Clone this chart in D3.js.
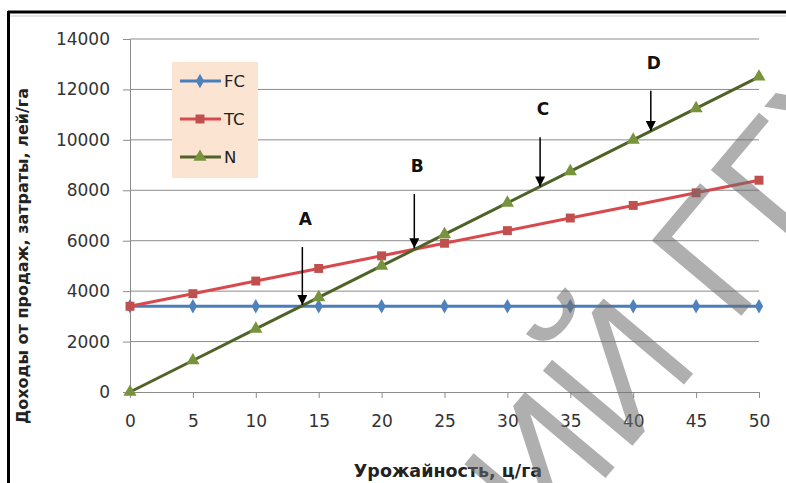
<!DOCTYPE html>
<html>
<head>
<meta charset="utf-8">
<script src="https://cdn.jsdelivr.net/npm/d3@7"></script>
<style>
  body { margin: 0; background: #fff; }
  svg { display: block; font-family: "DejaVu Sans", sans-serif; }
</style>
</head>
<body>
<script>
// Data

let yields = [0, 5, 10, 15, 20, 25, 30, 35, 40, 45, 50]
let fcValues = [3400, 3400, 3400, 3400, 3400, 3400, 3400, 3400, 3400, 3400, 3400]
let tcValues = [3400, 3900, 4400, 4900, 5400, 5900, 6400, 6900, 7400, 7900, 8400]
let nValues = [0, 1250, 2500, 3750, 5000, 6250, 7500, 8750, 10000, 11250, 12500]
let yTicks = [0, 2000, 4000, 6000, 8000, 10000, 12000, 14000]

// Arrow annotations: label, x (yield), top and tip values
let arrowLabels = ['A', 'B', 'C', 'D']
let arrowX = [13.7, 22.6, 32.6, 41.4]
let arrowTop = [5750, 7850, 10100, 11950]
let arrowTip = [3450, 5700, 8150, 10350]

let width = 786
let height = 483

let svg = d3.select('body')
    .append('svg')
    .attr('width', width)
    .attr('height', height)

let xScale = d3.scaleLinear().domain([0, 50]).range([130, 759])
let yScale = d3.scaleLinear().domain([0, 14000]).range([392, 39])

// frame
svg.append('line').attr('x1', 8).attr('x2', width).attr('y1', 12).attr('y2', 12)
    .attr('stroke', '#000').attr('stroke-width', 3)
svg.append('line').attr('x1', 8).attr('x2', width).attr('y1', 16).attr('y2', 16)
    .attr('stroke', '#ccc').attr('stroke-width', 1)
svg.append('line').attr('x1', 8.5).attr('x2', 8.5).attr('y1', 11).attr('y2', height)
    .attr('stroke', '#000').attr('stroke-width', 3)

// gridlines
svg.append('g')
    .selectAll('line')
    .data(yTicks.filter(d => d > 0))
    .join('line')
    .attr('x1', 130).attr('x2', 759)
    .attr('y1', d => yScale(d)).attr('y2', d => yScale(d))
    .attr('stroke', '#8c8c8c').attr('stroke-width', 1)

// axes
let yAxis = d3.axisLeft(yScale).tickValues(yTicks).tickFormat(d3.format('d'))
    .tickSize(7).tickPadding(13)
let yAxisG = svg.append('g').attr('transform', 'translate(130,0)').call(yAxis)
yAxisG.select('.domain').attr('stroke', '#8c8c8c')
yAxisG.selectAll('.tick line').attr('stroke', '#8c8c8c')
yAxisG.selectAll('.tick text').attr('font-size', 17).attr('fill', '#333')
    .attr('font-family', '"DejaVu Sans", sans-serif')

let xAxis = d3.axisBottom(xScale).tickValues(yields).tickSize(6).tickPadding(17)
let xAxisG = svg.append('g').attr('transform', 'translate(0,392)').call(xAxis)
xAxisG.select('.domain').attr('stroke', '#8c8c8c')
xAxisG.selectAll('.tick line').attr('stroke', '#8c8c8c')
xAxisG.selectAll('.tick text').attr('font-size', 17).attr('fill', '#333')
    .attr('font-family', '"DejaVu Sans", sans-serif')

// axis titles
svg.append('text')
    .attr('x', 448).attr('y', 477)
    .attr('text-anchor', 'middle')
    .attr('font-size', 17.5).attr('font-weight', 'bold').attr('fill', '#222')
    .text('Урожайность, ц/га')

svg.append('text')
    .attr('transform', 'translate(28,256) rotate(-90)')
    .attr('text-anchor', 'middle')
    .attr('font-size', 16).attr('font-weight', 'bold').attr('fill', '#222')
    .text('Доходы от продаж, затраты, лей/га')

// series
let series = [
    { name: 'FC', values: fcValues, line: '#4a7ebb', marker: '#4f81bd', shape: d3.symbolDiamond, size: 60 },
    { name: 'TC', values: tcValues, line: '#d9484c', marker: '#c0504d', shape: d3.symbolSquare, size: 80 },
    { name: 'N', values: nValues, line: '#4f6228', marker: '#77933c', shape: d3.symbolTriangle, size: 75 }
]

let line = d3.line()
    .x((d, i) => xScale(yields[i]))
    .y(d => yScale(d))

series.forEach(s => {
    svg.append('path')
        .datum(s.values)
        .attr('d', line)
        .attr('fill', 'none')
        .attr('stroke', s.line)
        .attr('stroke-width', 3)

    svg.append('g')
        .selectAll('path')
        .data(s.values)
        .join('path')
        .attr('transform', (d, i) => `translate(${xScale(yields[i])},${yScale(d)})`)
        .attr('d', d3.symbol().type(s.shape).size(s.size))
        .attr('fill', s.marker)
})

// legend
let legend = svg.append('g')
legend.append('rect')
    .attr('x', 172).attr('y', 62).attr('width', 86).attr('height', 116)
    .attr('fill', '#fce4d2')
series.forEach((s, i) => {
    let ly = 81 + i * 38
    legend.append('line')
        .attr('x1', 180).attr('x2', 221).attr('y1', ly).attr('y2', ly)
        .attr('stroke', s.line).attr('stroke-width', 3)
    legend.append('path')
        .attr('transform', `translate(200,${ly})`)
        .attr('d', d3.symbol().type(s.shape).size(s.size))
        .attr('fill', s.marker)
    legend.append('text')
        .attr('x', 224).attr('y', ly + 6)
        .attr('font-size', 16.5).attr('fill', '#222')
        .text(s.name)
})

// arrows
svg.append('defs').append('marker')
    .attr('id', 'head')
    .attr('viewBox', '0 0 10 10')
    .attr('refX', 10).attr('refY', 5)
    .attr('markerWidth', 12).attr('markerHeight', 10)
    .attr('markerUnits', 'userSpaceOnUse')
    .attr('orient', 'auto')
    .append('path')
    .attr('d', 'M0,0L10,5L0,10Z')
    .attr('fill', '#000')

arrowLabels.forEach((lab, i) => {
    let ax = xScale(arrowX[i])
    svg.append('line')
        .attr('x1', ax).attr('x2', ax)
        .attr('y1', yScale(arrowTop[i])).attr('y2', yScale(arrowTip[i]))
        .attr('stroke', '#000').attr('stroke-width', 1.5)
        .attr('marker-end', 'url(#head)')
    svg.append('text')
        .attr('x', ax + 3).attr('y', yScale(arrowTop[i]) - 22)
        .attr('text-anchor', 'middle')
        .attr('font-size', 17).attr('font-weight', 'bold').attr('fill', '#111')
        .text(lab)
})

// scanned watermark
svg.append('text')
    .attr('transform', 'translate(545,550) rotate(-50)')
    .attr('font-size', 170).attr('font-family', '"Liberation Sans", sans-serif')
    .attr('fill', '#6e6e6e').attr('opacity', 0.55)
    .text('ИЙ ГГУ')
</script>
</body>
</html>
